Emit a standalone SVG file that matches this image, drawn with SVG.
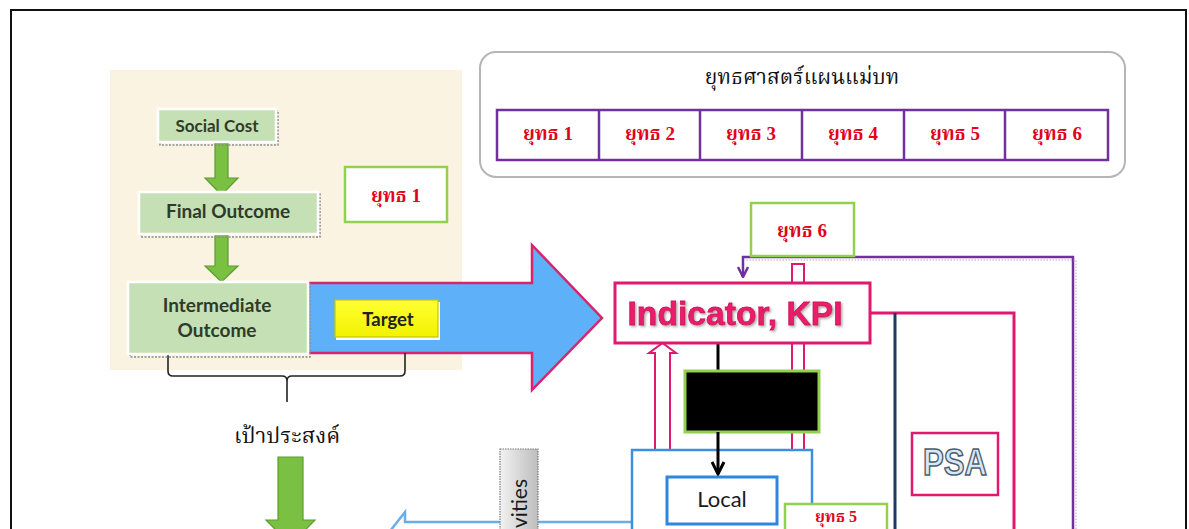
<svg xmlns="http://www.w3.org/2000/svg" width="1189" height="529" viewBox="0 0 1189 529">
<defs>
<style>
.thai{font-family:"Liberation Serif","Noto Serif Thai","Noto Sans Thai","Noto Sans",serif;}
.yut{font-family:"Liberation Serif","Noto Serif Thai","Noto Sans Thai","Noto Sans",serif;font-weight:bold;fill:#e3001b;font-size:19px;text-anchor:middle;}
.lbl{font-family:Lato,"Liberation Sans",sans-serif;font-weight:bold;fill:#2f3b2a;text-anchor:middle;}
.gbox{fill:#c5e0b4;stroke:#ffffff;stroke-width:2.5;}
.gshadow{fill:none;stroke:#8a8a8a;stroke-width:1.5;stroke-dasharray:2 1.5;}
.greenarrow{fill:#7ac143;stroke:#5d9c2e;stroke-width:1.2;}
.ybox{fill:#ffffff;stroke:#92d050;stroke-width:2.5;}
.pink{fill:none;stroke:#e0196e;stroke-width:3;}
</style>
<linearGradient id="grayg" x1="0" y1="0" x2="1" y2="0">
<stop offset="0" stop-color="#f2f2f2"/>
<stop offset="1" stop-color="#bdbdbd"/>
</linearGradient>
<linearGradient id="yellowg" x1="0" y1="0" x2="0" y2="1">
<stop offset="0" stop-color="#ffff33"/>
<stop offset="1" stop-color="#f2f200"/>
</linearGradient>
<filter id="shadow" x="-10%" y="-20%" width="120%" height="150%">
<feDropShadow dx="1.5" dy="1.5" stdDeviation="0.8" flood-color="#888" flood-opacity="0.7"/>
</filter>
<marker id="arrBlack" viewBox="0 0 10 10" refX="9" refY="5" markerWidth="5" markerHeight="5" orient="auto" markerUnits="strokeWidth">
<path d="M1,1 L9,5 L1,9" fill="none" stroke="#000" stroke-width="2"/>
</marker>
<marker id="arrPurple" viewBox="0 0 10 10" refX="9" refY="5" markerWidth="5" markerHeight="5" orient="auto" markerUnits="strokeWidth">
<path d="M1,1 L9,5 L1,9" fill="none" stroke="#7030a0" stroke-width="2"/>
</marker>
</defs>

<rect x="0" y="0" width="1189" height="529" fill="#ffffff"/>
<rect id="frame" x="11" y="10" width="1175" height="540" fill="none" stroke="#111" stroke-width="2"/>

<rect id="panel" x="110" y="70" width="352" height="300" fill="#fbf3e2"/>

<g id="targetArrow">
<polygon points="300,283 532,283 532,245 602,318 532,390 532,353 300,353" fill="#5eb1f8" stroke="#d6246e" stroke-width="2.5" stroke-linejoin="miter"/>
</g>

<g id="connectors">
<polygon class="greenarrow" points="215,143 228,143 228,178 238,178 221.5,195 205,178 215,178"/>
<polygon class="greenarrow" points="215,235 228,235 228,266 238,266 221.5,282 205,266 215,266"/>
<polygon class="greenarrow" points="278,457 303,457 303,520 315,520 290.5,545 266,520 278,520"/>
<path d="M168,355 V371 Q168,376 173,376 H282 Q287,376 287,381 V402 M287,381 Q287,376 292,376 H400 Q405,376 405,371 V353" fill="none" stroke="#222" stroke-width="1.6"/>
<path d="M1073,529 V257 H743 V277" fill="none" stroke="#7030a0" stroke-width="2.5" marker-end="url(#arrPurple)"/>
<path d="M1076,529 V260 H746" fill="none" stroke="#b9a3d3" stroke-width="1" stroke-dasharray="1.5 1.5"/>
<path class="pink" d="M870,313 H1014 V529"/>
<path d="M895,313 V529" fill="none" stroke="#1f3864" stroke-width="3"/>
<rect x="792" y="264" width="12" height="186" fill="#ffffff" stroke="#e0196e" stroke-width="2"/>
<polygon points="655,450 655,353 649,353 662.5,343 676,353 670,353 670,450" fill="#ffffff" stroke="#e0196e" stroke-width="2"/>
<path d="M718,343 V372" stroke="#000" stroke-width="3" fill="none"/>
<path d="M632,522 H405 V512 L383,540" fill="none" stroke="#6aaee8" stroke-width="2.5"/>
</g>

<g id="socialCost">
<rect class="gshadow" x="160" y="111" width="118" height="34"/>
<rect class="gbox" x="158" y="109" width="118" height="33"/>
<text class="lbl" x="217" y="132" font-size="17">Social Cost</text>
</g>
<g id="finalOutcome">
<rect class="gshadow" x="141" y="194" width="179" height="43"/>
<rect class="gbox" x="139" y="192" width="179" height="42"/>
<text class="lbl" x="228" y="218" font-size="19">Final Outcome</text>
</g>
<g id="intermediateOutcome">
<rect class="gshadow" x="130" y="284" width="180" height="73"/>
<rect class="gbox" x="128" y="282" width="180" height="72"/>
<text class="lbl" x="217" y="312" font-size="19">Intermediate</text>
<text class="lbl" x="217" y="337" font-size="19">Outcome</text>
</g>
<g id="target">
<rect x="336" y="302" width="104" height="38" fill="#ffffff"/>
<rect x="335" y="300" width="103" height="37" fill="url(#yellowg)" stroke="#c9c400" stroke-width="1.2"/>
<text class="lbl" x="388" y="326" font-size="18.5" style="fill:#222">Target</text>
</g>
<g id="yut1">
<rect class="ybox" x="345" y="167" width="102" height="55"/>
<text class="yut" x="396" y="202">ยุทธ 1</text>
</g>
<g id="goal">
<text class="thai" x="287" y="443" font-size="22" text-anchor="middle" fill="#111">เป้าประสงค์</text>
</g>

<g id="masterPlan">
<rect x="480" y="52" width="645" height="125" rx="16" fill="#ffffff" stroke="#b5b5b5" stroke-width="2"/>
<text class="thai" x="802" y="84" font-size="21" text-anchor="middle" fill="#111">ยุทธศาสตร์แผนแม่บท</text>
<rect x="497" y="110" width="611" height="50" fill="#ffffff" stroke="#7030a0" stroke-width="2.5"/>
<path d="M599,110 V160 M700,110 V160 M802,110 V160 M904,110 V160 M1005,110 V160" stroke="#7030a0" stroke-width="2.5" fill="none"/>
<text class="yut" x="548" y="140">ยุทธ 1</text>
<text class="yut" x="650" y="140">ยุทธ 2</text>
<text class="yut" x="751" y="140">ยุทธ 3</text>
<text class="yut" x="853" y="140">ยุทธ 4</text>
<text class="yut" x="955" y="140">ยุทธ 5</text>
<text class="yut" x="1057" y="140">ยุทธ 6</text>
</g>

<g id="yut6">
<rect class="ybox" x="751" y="203" width="103" height="53"/>
<text class="yut" x="802" y="237">ยุทธ 6</text>
</g>

<g id="indicator">
<rect x="615" y="283" width="255" height="60" fill="#ffffff" stroke="#e0196e" stroke-width="3"/>
<text x="735" y="325" font-family="'Liberation Sans',Arial,sans-serif" font-weight="bold" font-size="34" fill="#ea1a6c" stroke="#d0105c" stroke-width="0.8" text-anchor="middle" textLength="215" lengthAdjust="spacingAndGlyphs" filter="url(#shadow)">Indicator, KPI</text>
</g>

<g id="blackBox">
<rect x="685" y="371" width="134" height="61" fill="#000000" stroke="#92d050" stroke-width="3"/>
</g>

<g id="local">
<rect x="632" y="450" width="180" height="100" fill="#ffffff" stroke="#3d8fe0" stroke-width="2.5"/>
<path d="M718,432 V474" stroke="#000" stroke-width="3" fill="none" marker-end="url(#arrBlack)"/>
<rect x="667" y="477" width="110" height="47" fill="#ffffff" stroke="#2e86de" stroke-width="3"/>
<text x="722" y="507" font-family="Lato,'Liberation Sans',sans-serif" font-size="22" fill="#1a1a1a" text-anchor="middle">Local</text>
</g>

<g id="yut5">
<rect class="ybox" x="785" y="504" width="102" height="45"/>
<text class="yut" x="836" y="522" font-size="16" style="font-size:16px">ยุทธ 5</text>
</g>

<g id="psa">
<rect x="912" y="433" width="86" height="62" fill="#ffffff" stroke="#e0196e" stroke-width="2.5"/>
<text x="955" y="475" font-family="'Liberation Sans',Arial,sans-serif" font-weight="bold" font-size="36" fill="#d7e8f8" stroke="#4d5d6e" stroke-width="1.5" text-anchor="middle" textLength="64" lengthAdjust="spacingAndGlyphs">PSA</text>
</g>

<g id="activities">
<rect x="500" y="449" width="38" height="90" fill="url(#grayg)" stroke="#7a7a7a" stroke-width="1.2" stroke-dasharray="1.5 1"/>
<text transform="translate(527,528) rotate(-90)" x="0" y="0" font-family="Lato,'Liberation Sans',sans-serif" font-size="21" fill="#1a1a1a">vities</text>
</g>
</svg>
